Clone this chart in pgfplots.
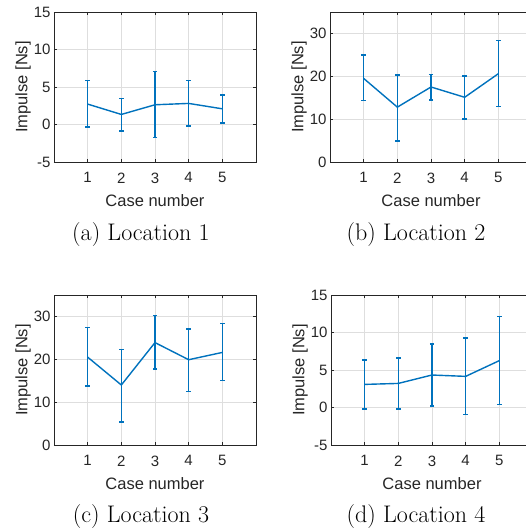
\documentclass[border=0pt]{standalone}
\usepackage{fontspec}
\setsansfont{Liberation Sans}
\usepackage{pgfplots}
\pgfplotsset{compat=1.18}
\definecolor{mblue}{RGB}{0,114,189}
\definecolor{axgray}{RGB}{38,38,38}
\pgfplotsset{mystyle/.style={
  width=202pt, height=150pt, scale only axis,
  xmin=0, xmax=6, xtick={1,2,3,4,5},
  grid=major, major grid style={black!13, line width=0.5pt},
  axis line style={axgray, line width=0.6pt},
  tick style={axgray, line width=0.5pt}, tick align=inside, major tick length=3pt,
  ticklabel style={font=\fontsize{15}{15}\selectfont\sffamily, text=axgray},
  xticklabel style={yshift=-7pt},
  label style={font=\fontsize{16.5}{16.5}\selectfont\sffamily, text=axgray},
  xlabel style={yshift=-5pt},
  ylabel style={yshift=-4pt},
  /pgf/number format/assume math mode=true,
  xlabel={Case number}, ylabel={Impulse [Ns]},
  anchor=south west,
}}
\pgfplotsset{mplot/.style={mblue, line width=1.4pt, mark=none,
    error bars/.cd, y dir=both, y explicit,
    error bar style={line width=1.4pt, mblue},
    error mark=|,
    error mark options={mblue, line width=1.4pt, mark size=2.2pt}}}
\begin{document}
\begin{tikzpicture}[x=1pt,y=1pt]
\useasboundingbox (0,0) rectangle (526,532);
% (a)
\begin{axis}[mystyle, at={(54pt,370pt)}, ymin=-5, ymax=15, ytick={-5,0,5,10,15}]
\addplot[mplot] coordinates {
 (1,2.72) += (0,3.12) -= (0,3.03)
 (2,1.34) += (0,2.13) -= (0,2.19)
 (3,2.63) += (0,4.41) -= (0,4.37)
 (4,2.81) += (0,3.03) -= (0,2.99)
 (5,2.09) += (0,1.83) -= (0,1.87)
};
\end{axis}
% (b)
\begin{axis}[mystyle, at={(330pt,370pt)}, ymin=0, ymax=35, ytick={0,10,20,30}]
\addplot[mplot] coordinates {
 (1,19.5) += (0,5.5) -= (0,5.2)
 (2,12.8) += (0,7.5) -= (0,7.9)
 (3,17.5) += (0,2.9) -= (0,3.0)
 (4,15.1) += (0,5.0) -= (0,5.05)
 (5,20.6) += (0,7.8) -= (0,7.7)
};
\end{axis}
% (c)
\begin{axis}[mystyle, at={(54pt,87pt)}, ymin=0, ymax=35, ytick={0,10,20,30}]
\addplot[mplot] coordinates {
 (1,20.5) += (0,6.9) -= (0,6.7)
 (2,14.0) += (0,8.3) -= (0,8.6)
 (3,23.9) += (0,6.3) -= (0,6.2)
 (4,19.9) += (0,7.2) -= (0,7.4)
 (5,21.6) += (0,6.7) -= (0,6.6)
};
\end{axis}
% (d)
\begin{axis}[mystyle, at={(331pt,87pt)}, ymin=-5, ymax=15, ytick={-5,0,5,10,15}]
\addplot[mplot] coordinates {
 (1,3.08) += (0,3.26) -= (0,3.30)
 (2,3.21) += (0,3.39) -= (0,3.39)
 (3,4.33) += (0,4.11) -= (0,4.11)
 (4,4.15) += (0,5.09) -= (0,5.09)
 (5,6.25) += (0,5.89) -= (0,5.89)
};
\end{axis}
\node[font=\fontsize{24}{28}\selectfont] at (141,297) {(a) Location 1};
\node[font=\fontsize{24}{28}\selectfont] at (416,297) {(b) Location 2};
\node[font=\fontsize{24}{28}\selectfont] at (141,15) {(c) Location 3};
\node[font=\fontsize{24}{28}\selectfont] at (416,15) {(d) Location 4};
\end{tikzpicture}
\end{document}
